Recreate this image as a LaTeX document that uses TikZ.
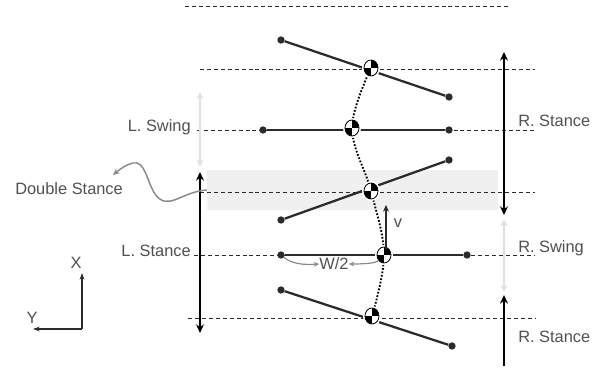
\documentclass[tikz,border=0pt]{standalone}
\usepackage{fontspec}
\setmainfont{Liberation Sans}
\usetikzlibrary{arrows.meta,shapes.geometric}
\definecolor{ink}{HTML}{2B2B2B}
\definecolor{labelgray}{HTML}{505050}
\definecolor{swinggray}{HTML}{E0E0E0}
\definecolor{bandgray}{HTML}{F0F0F0}
\definecolor{curlgray}{HTML}{8A8A8A}
\tikzset{
  guide/.style={draw=ink,line width=0.75pt,dash pattern=on 3pt off 2.2pt},
  band/.style={fill=bandgray,draw=none,minimum width=218.25pt,minimum height=30pt,
               inner sep=0pt},
  leg/.style={draw=ink,line width=1.7pt},
  foot/.style={circle,fill=ink,inner sep=0pt,minimum size=5.5pt},
  com/.style={ellipse,draw=black,fill=white,line width=0.6pt,inner sep=0pt,
              minimum width=10.5pt,minimum height=12pt,
              preaction={draw=white,line width=3pt},
              path picture={
                \fill[black] (path picture bounding box.center)
                  rectangle (path picture bounding box.north east);
                \fill[black] (path picture bounding box.center)
                  rectangle (path picture bounding box.south west);}},
  traj/.style={draw=black,line width=1.4pt,dash pattern=on 1.3pt off 1.3pt},
  stancearr/.style={draw=black,line width=2.1pt,
                    {Stealth[length=6.5pt,width=6pt]}-{Stealth[length=6.5pt,width=6pt]}},
  stanceone/.style={draw=black,line width=2.1pt,-{Stealth[length=6.5pt,width=6pt]}},
  swingarr/.style={draw=swinggray,line width=1.6pt,
                   {Stealth[length=5.5pt,width=5pt]}-{Stealth[length=5.5pt,width=5pt]}},
  velarr/.style={draw=ink,line width=1pt,-{Stealth[length=5pt,width=4.5pt]}},
  halfarr/.style={draw=curlgray,line width=0.9pt,-{Stealth[length=4pt,width=3.5pt]}},
  curlarr/.style={draw=curlgray,line width=1.1pt,-{Stealth[length=5pt,width=4.5pt]}},
  axisarr/.style={draw=ink,line width=0.8pt,-{Stealth[length=5pt,width=3.5pt]}},
  phase/.style={font=\fontsize{12.3}{14}\selectfont,text=labelgray,inner sep=0pt}
}

\begin{document}
\begin{tikzpicture}[x=0.75pt,y=-0.75pt]
  \useasboundingbox (0,0) rectangle (612,371);

  % double stance band
  \node[band] (dsband) at (352.5,190) {};

  % step lines
  \draw[guide] (185,6) -- (508,6);
  \draw[guide] (200,69) -- (535,69);
  \draw[guide] (197,130) -- (535,130);
  \draw[guide] (200,192) -- (535,192);
  \draw[guide] (194,255) -- (535,255);
  \draw[guide] (188,318) -- (535,318);

  % phase arrows, left foot
  \coordinate (lsw0) at (200,92);
  \coordinate (lsw1) at (200,167);
  \coordinate (lst0) at (200,172);
  \coordinate (lst1) at (200,333);
  \draw[swingarr] (lsw0) -- (lsw1);
  \draw[stancearr] (lst0) -- (lst1);

  % phase arrows, right foot
  \coordinate (rst0) at (504,52);
  \coordinate (rst1) at (504,215);
  \coordinate (rsw0) at (504,219);
  \coordinate (rsw1) at (504,292);
  \coordinate (rsb0) at (504,366);
  \coordinate (rsb1) at (504,295);
  \draw[stancearr] (rst0) -- (rst1);
  \draw[swingarr] (rsw0) -- (rsw1);
  \draw[stanceone] (rsb0) -- (rsb1);

  % feet and legs
  \node[foot] (f1a) at (281,40) {};  \node[foot] (f1b) at (449,97) {};
  \node[foot] (f2a) at (263,130) {}; \node[foot] (f2b) at (449,130) {};
  \node[foot] (f3a) at (281,220) {}; \node[foot] (f3b) at (449,160) {};
  \node[foot] (f4a) at (281,255) {}; \node[foot] (f4b) at (467,255) {};
  \node[foot] (f5a) at (281,290) {}; \node[foot] (f5b) at (452,346) {};
  \draw[leg] (f1a) -- (f1b);
  \draw[leg] (f2a) -- (f2b);
  \draw[leg] (f3a) -- (f3b);
  \draw[leg] (f4a) -- (f4b);
  \draw[leg] (f5a) -- (f5b);

  % centre of mass path
  \coordinate (c1) at (371,68);
  \coordinate (c2) at (352,128);
  \coordinate (c3) at (371,191);
  \coordinate (c4) at (384,255);
  \coordinate (c5) at (372,316);
  \draw[traj] plot[smooth,tension=0.6] coordinates {(c1) (c2) (c3) (c4) (c5)};
  \node[com] (com1) at (c1) {};
  \node[com] (com2) at (c2) {};
  \node[com] (com3) at (c3) {};
  \node[com] (com4) at (c4) {};
  \node[com] (com5) at (c5) {};

  % velocity
  \coordinate (vbase) at (386,249);
  \coordinate (vtip) at (386,205);
  \draw[velarr] (vbase) -- (vtip);
  \node[phase] (vlab) at (398,223) {v};

  % half width
  \node[phase] (half) at (334,264) {W/2};
  \draw[halfarr] (f4a) .. controls (292,264) and (304,265) .. (half.west);
  \draw[halfarr] (com4) .. controls (376,263) and (366,264) .. (half.east);

  % labels
  \node[phase,anchor=base east] (lswing) at (191,131) {L. Swing};
  \node[phase,anchor=base east] (lstance) at (191,256) {L. Stance};
  \node[phase,anchor=base west] (rstance) at (518,127) {R. Stance};
  \node[phase,anchor=base west] (rswing) at (518,252) {R. Swing};
  \node[phase,anchor=base west] (rstancelow) at (518,342) {R. Stance};
  \node[phase,anchor=base west] (dstance) at (15,195) {Double Stance};
  \coordinate (dstip) at (113,175);
  \draw[curlarr] (dsband.west) .. controls (180,192) and (168,212) .. (155,194)
    .. controls (147,182) and (145,160) .. (133,163)
    .. controls (125,165) and (119,170) .. (dstip);

  % axes
  \coordinate (ax0) at (82,329);
  \coordinate (axx) at (82,273);
  \coordinate (axy) at (33,329);
  \draw[axisarr] (ax0) -- (axx);
  \draw[axisarr] (ax0) -- (axy);
  \node[phase] (xlab) at (76,263) {X};
  \node[phase] (ylab) at (32,318) {Y};
\end{tikzpicture}
\end{document}
